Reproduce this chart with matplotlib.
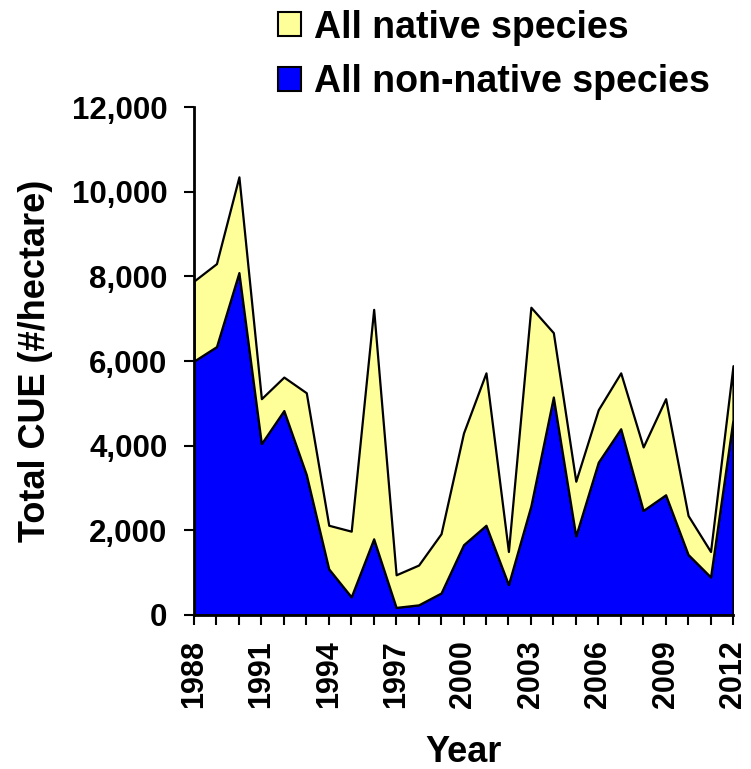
import numpy as np
import matplotlib
matplotlib.use("Agg")
import matplotlib.pyplot as plt
from matplotlib.patches import Patch
from matplotlib.ticker import FuncFormatter

# Data
years = list(range(1988, 2013))
non_native = [6000, 6340, 8090, 4050, 4830, 3320, 1090, 430, 1800, 180,
              240, 520, 1660, 2120, 720, 2580, 5150, 1870, 3610, 4400,
              2470, 2840, 1430, 900, 4620]
native = [1890, 1960, 2260, 1060, 790, 1930, 1030, 1550, 5420, 770,
          940, 1400, 2640, 3600, 780, 4690, 1520, 1290, 1240, 1320,
          1500, 2270, 920, 600, 1270]
labels = ["All native species", "All non-native species"]
colors = ["#FFFF99", "#0000FF"]

plt.rcParams['font.family'] = ['Liberation Sans', 'DejaVu Sans']
plt.rcParams['font.weight'] = 'bold'

fig = plt.figure(figsize=(7.51, 7.69), dpi=100)
ax = fig.add_axes([194 / 751, 1 - 615 / 769, (733 - 194) / 751, (615 - 107) / 769])

# Stacked areas: non-native at the bottom, native on top
ax.stackplot(years, non_native, native, colors=[colors[1], colors[0]],
             edgecolor='black', linewidth=1.6)

ax.set_xlim(1988, 2012)
ax.set_ylim(0, 12000)
ax.set_xticks(years, minor=True)
ax.set_xticks(years[::3])
ax.set_yticks(np.arange(0, 12001, 2000))
ax.yaxis.set_major_formatter(FuncFormatter(lambda v, p: f"{int(v):,}"))

for s in ['top', 'right']:
    ax.spines[s].set_visible(False)
for s in ['left', 'bottom']:
    ax.spines[s].set_linewidth(2)

ax.tick_params(axis='both', which='both', direction='out', width=1.5, length=7)
ax.tick_params(axis='x', which='major', labelsize=22, rotation=90, pad=11)
ax.tick_params(axis='y', labelsize=22.5, pad=12)
for t in ax.get_xticklabels() + ax.get_yticklabels():
    t.set_fontweight('bold')

ax.set_xlabel("Year", fontsize=26, fontweight='bold', labelpad=19)
ax.set_ylabel("Total CUE (#/hectare)", fontsize=26, fontweight='bold', labelpad=14)

# Legend above the plot
handles = [Patch(facecolor=colors[0], edgecolor='black', linewidth=1.5),
           Patch(facecolor=colors[1], edgecolor='black', linewidth=1.5)]
fig.legend(handles, labels, loc='upper left', bbox_to_anchor=(259 / 751, 1.012),
           frameon=False, prop={'size': 27, 'weight': 'bold'},
           handlelength=0.62, handleheight=0.62, handletextpad=0.35,
           labelspacing=0.5, borderaxespad=0.1)

plt.savefig("out.png", dpi=100)
